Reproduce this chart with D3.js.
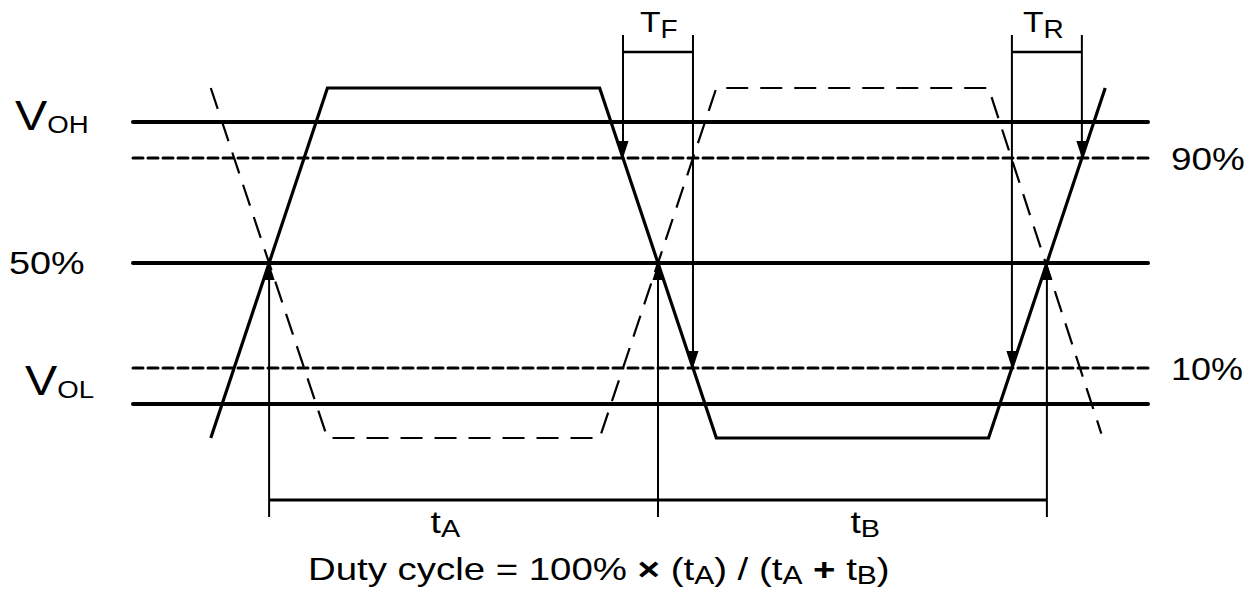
<!DOCTYPE html>
<html>
<head>
<meta charset="utf-8">
<script src="https://cdn.jsdelivr.net/npm/d3@7.9.0/dist/d3.min.js"></script>
<style>
  html, body { margin: 0; padding: 0; background: #fff; }
  svg { display: block; font-family: "Liberation Sans", Arial, sans-serif; }
</style>
</head>
<body>
<svg id="chart" width="1258" height="591"></svg>
<script>
// reference levels, in % of the swing
const levelNames = ['VOH', '90%', '50%', '10%', 'VOL'];
const levelValues = [103.7, 90, 50, 10, -3.7];

// solid waveform (time in ns, level in %)
const solidTimes = [-15, 15, 85, 115, 185, 215];
const solidLevels = [-16.7, 116.7, 116.7, -16.7, -16.7, 116.7];

// dashed (inverted) waveform
const dashedTimes = [-15, 15, 85, 115, 185, 214];
const dashedLevels = [116.7, -16.7, -16.7, 116.7, 116.7, -15];

const svg = d3.select('#chart');
const x = d3.scaleLinear().domain([-35, 226]).range([133, 1148]);
const y = d3.scaleLinear().domain([-16.7, 116.7]).range([438, 88]);

// arrow marker
svg.append('defs').append('marker')
  .attr('id', 'arrow')
  .attr('viewBox', '-17 -6 18 12')
  .attr('refX', 0).attr('refY', 0)
  .attr('markerUnits', 'userSpaceOnUse')
  .attr('markerWidth', 18).attr('markerHeight', 12)
  .attr('orient', 'auto')
  .append('path')
  .attr('d', 'M0,0 L-17,-5.5 L-17,5.5 Z')
  .attr('fill', '#000');

// horizontal level lines
levelValues.forEach((v, i) => {
  const dashed = levelNames[i] === '90%' || levelNames[i] === '10%';
  svg.append('line')
    .attr('x1', x.range()[0]).attr('x2', x.range()[1])
    .attr('y1', y(v)).attr('y2', y(v))
    .attr('stroke', '#000')
    .attr('stroke-width', dashed ? 3 : 4)
    .attr('stroke-linecap', 'round')
    .attr('stroke-dasharray', dashed ? '10,5' : null);
});

const line = d3.line().x((d) => x(d[0])).y((d) => y(d[1]));

svg.append('path')
  .attr('d', line(dashedTimes.map((t, i) => [t, dashedLevels[i]])))
  .attr('fill', 'none').attr('stroke', '#000')
  .attr('stroke-width', 2.2)
  .attr('stroke-dasharray', '22,12');

svg.append('path')
  .attr('d', line(solidTimes.map((t, i) => [t, solidLevels[i]])))
  .attr('fill', 'none').attr('stroke', '#000')
  .attr('stroke-width', 3.2)
  .attr('stroke-linejoin', 'miter');

// time where the solid edge starting at point i crosses a level
function crossing(i, level) {
  return d3.scaleLinear()
    .domain([solidLevels[i], solidLevels[i + 1]])
    .range([solidTimes[i], solidTimes[i + 1]])(level);
}

const mid = [crossing(0, 50), crossing(2, 50), crossing(4, 50)];
const tf = [crossing(2, 90), crossing(2, 10)];
const tr = [crossing(4, 10), crossing(4, 90)];

// duty-cycle measurement
const yMeas = 500;
mid.forEach((t) => {
  svg.append('line')
    .attr('x1', x(t)).attr('x2', x(t))
    .attr('y1', 517).attr('y2', y(50))
    .attr('stroke', '#000').attr('stroke-width', 2)
    .attr('marker-end', 'url(#arrow)');
});
svg.append('line')
  .attr('x1', x(mid[0])).attr('x2', x(mid[2]))
  .attr('y1', yMeas).attr('y2', yMeas)
  .attr('stroke', '#000').attr('stroke-width', 3);

// TF / TR brackets
function bracket(times, levels) {
  times.forEach((t, i) => {
    svg.append('line')
      .attr('x1', x(t)).attr('x2', x(t))
      .attr('y1', 35).attr('y2', y(levels[i]))
      .attr('stroke', '#000').attr('stroke-width', 2)
      .attr('marker-end', 'url(#arrow)');
  });
  svg.append('line')
    .attr('x1', x(times[0])).attr('x2', x(times[1]))
    .attr('y1', 52).attr('y2', 52)
    .attr('stroke', '#000').attr('stroke-width', 2.5);
}
bracket(tf, [90, 10]);
bracket(tr, [10, 90]);

// text, stretched horizontally like the source drawing
function label(px, py, size, sx) {
  return svg.append('text')
    .attr('transform', `translate(${px},${py}) scale(${sx},1)`)
    .attr('font-size', size).attr('fill', '#000');
}
function subLabel(px, py, main, sub, size, subSize, dy, sx) {
  const t = label(px, py, size, sx);
  t.append('tspan').text(main);
  t.append('tspan').attr('font-size', subSize).attr('dy', dy).text(sub);
  return t;
}

subLabel(15, 130, 'V', 'OH', 42, 24, 3, 1.15);
subLabel(25, 395, 'V', 'OL', 42, 24, 3, 1.15);
label(9, 274, 31, 1.22).text('50%');
label(1171, 170, 31, 1.19).text('90%');
label(1171, 380, 31, 1.16).text('10%');

subLabel(x(d3.mean(tf)) - 18, 32, 'T', 'F', 30, 25, 6, 1.12);
subLabel(x(d3.mean(tr)) - 24, 32, 'T', 'R', 30, 25, 6, 1.12);

subLabel(x(d3.mean(mid.slice(0, 2))) - 33, 533, 't', 'A', 31, 24, 4, 1.2);
subLabel(x(d3.mean(mid.slice(1, 3))) - 2, 533, 't', 'B', 31, 24, 4, 1.2);

// formula
const f = label(308, 580, 32, 1.2);
f.append('tspan').text('Duty cycle = 100% ');
f.append('tspan').attr('font-weight', 'bold').text('×');
f.append('tspan').text(' (t');
f.append('tspan').attr('font-size', 25).attr('dy', 4).text('A');
f.append('tspan').attr('dy', -4).text(') / (t');
f.append('tspan').attr('font-size', 25).attr('dy', 4).text('A');
f.append('tspan').attr('dy', -4).text(' ');
f.append('tspan').attr('font-weight', 'bold').text('+');
f.append('tspan').text(' t');
f.append('tspan').attr('font-size', 25).attr('dy', 4).text('B');
f.append('tspan').attr('dy', -4).text(')');
</script>
</body>
</html>
